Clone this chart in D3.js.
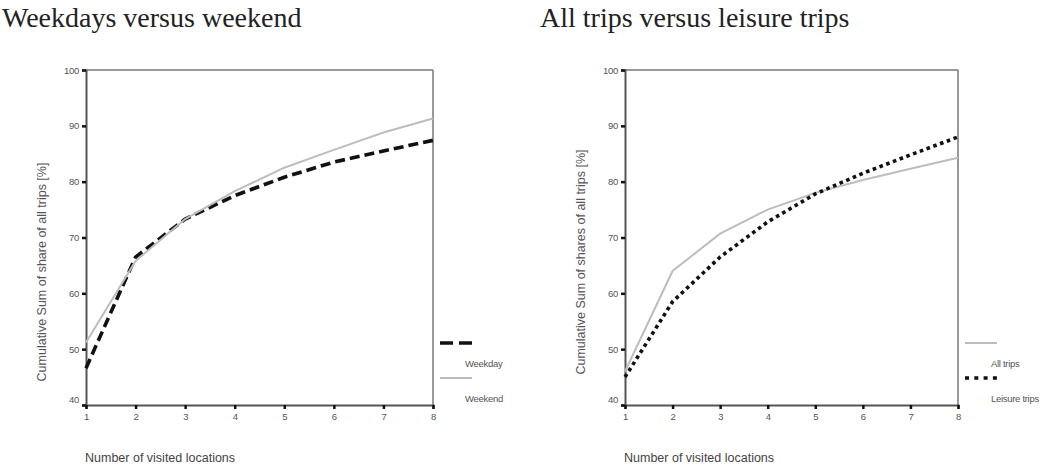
<!DOCTYPE html>
<html><head><meta charset="utf-8">
<script src="https://cdn.jsdelivr.net/npm/d3@7"></script>
<style>
body{margin:0;background:#fff;}
svg{display:block;}
</style></head>
<body>
<svg id="c" width="1056" height="465"></svg>
<script>
const locations = [1,2,3,4,5,6,7,8];
const weekday = [46.6,66.5,73.3,77.5,80.8,83.5,85.5,87.4];
const weekend = [51.2,65.8,73.3,78.3,82.5,85.7,88.8,91.3];
const allTrips = [46.0,64.0,70.7,75.0,78.0,80.3,82.3,84.3];
const leisureTrips = [45.0,58.5,66.5,72.8,77.8,81.5,84.8,88.0];
const yTicks = [40,50,60,70,80,90,100];
const titles = ["Weekdays versus weekend","All trips versus leisure trips"];
const yLabels = ["Cumulative Sum of share of all trips [%]","Cumulative Sum of shares of all trips [%]"];
const xLabel = "Number of visited locations";
const legendLeft = ["Weekday","Weekend"];
const legendRight = ["All trips","Leisure trips"];

const svg = d3.select("#c");
const styles = {
  dash: {stroke:"#111", width:3.6, dash:"10,5", ldash:"13,6"},
  gray: {stroke:"#bdbdbd", width:2, dash:null, ldash:null},
  dot:  {stroke:"#111", width:3.6, dash:"3.6,3.6", ldash:"4,5.3"}
};

function panel(cfg){
  const g = svg.append("g");
  const x = d3.scaleLinear().domain([1,8]).range([cfg.x0, cfg.x1]);
  const y = d3.scaleLinear().domain([40,100]).range([405,70]);
  // title
  svg.append("text").attr("x",cfg.tx).attr("y",27)
    .attr("font-family","'Liberation Serif','Times New Roman',serif")
    .attr("font-size",28).attr("fill","#222")
    .text(cfg.title);
  // frame
  g.append("line").attr("x1",cfg.x0).attr("x2",cfg.x1).attr("y1",70).attr("y2",70)
    .attr("stroke","#777").attr("stroke-width",1.5);
  g.append("line").attr("x1",cfg.x1).attr("x2",cfg.x1).attr("y1",70).attr("y2",405)
    .attr("stroke","#777").attr("stroke-width",1.5);
  // axes
  const ya = g.append("g").attr("transform",`translate(${cfg.x0},0)`)
    .call(d3.axisLeft(y).tickValues(yTicks).tickSize(4).tickPadding(3));
  const xa = g.append("g").attr("transform",`translate(0,405)`)
    .call(d3.axisBottom(x).tickValues(locations).tickFormat(d3.format("d")).tickSize(4).tickPadding(4));
  [ya,xa].forEach(a=>{
    a.select(".domain").attr("stroke","#555").attr("stroke-width",2);
    a.selectAll(".tick line").attr("stroke","#111").attr("stroke-width",2.5);
    a.selectAll(".tick text").attr("font-family","Arial, 'Liberation Sans', sans-serif")
      .attr("font-size",9.5).attr("fill","#555").attr("letter-spacing",-0.3);
  });
  ya.selectAll(".tick text").filter(d=>d===40).attr("dy","-0.3em");
  // y label
  g.append("text").attr("transform",`translate(${cfg.ylx},${cfg.yly}) rotate(-90)`)
    .attr("text-anchor","middle").attr("font-family","Arial, 'Liberation Sans', sans-serif")
    .attr("font-size",12.5).attr("fill","#555").text(cfg.ylab);
  // x label
  g.append("text").attr("x",cfg.x0-1).attr("y",462)
    .attr("font-family","Arial, 'Liberation Sans', sans-serif")
    .attr("font-size",12.5).attr("fill","#444").text(xLabel);
  // lines
  const line = d3.line().x((d,i)=>x(locations[i])).y(d=>y(d));
  cfg.series.forEach(s=>{
    const st = styles[s.style];
    g.append("path").datum(s.values).attr("d",line).attr("fill","none")
      .attr("stroke",st.stroke).attr("stroke-width",st.width)
      .attr("stroke-dasharray",st.dash);
  });
  // legend
  cfg.series.forEach((s,i)=>{
    const st = styles[s.style];
    const ly = 343 + i*35;
    g.append("line").attr("x1",cfg.x1+7).attr("x2",cfg.x1+39).attr("y1",ly).attr("y2",ly)
      .attr("stroke",st.stroke).attr("stroke-width",st.width).attr("stroke-dasharray",st.ldash);
    g.append("text").attr("x",cfg.x1+cfg.ltx).attr("y",ly+24)
      .attr("font-family","Arial, 'Liberation Sans', sans-serif")
      .attr("font-size",9.5).attr("fill","#555").attr("letter-spacing",-0.3).text(s.name);
  });
}

panel({x0:86,x1:433,tx:2,title:titles[0],ylab:yLabels[0],ylx:46,yly:272,ltx:32,
  series:[{name:legendLeft[0],values:weekday,style:"dash"},{name:legendLeft[1],values:weekend,style:"gray"}]});
panel({x0:625,x1:958,tx:540,title:titles[1],ylab:yLabels[1],ylx:585,yly:262,ltx:33,
  series:[{name:legendRight[0],values:allTrips,style:"gray"},{name:legendRight[1],values:leisureTrips,style:"dot"}]});
</script>
</body></html>
